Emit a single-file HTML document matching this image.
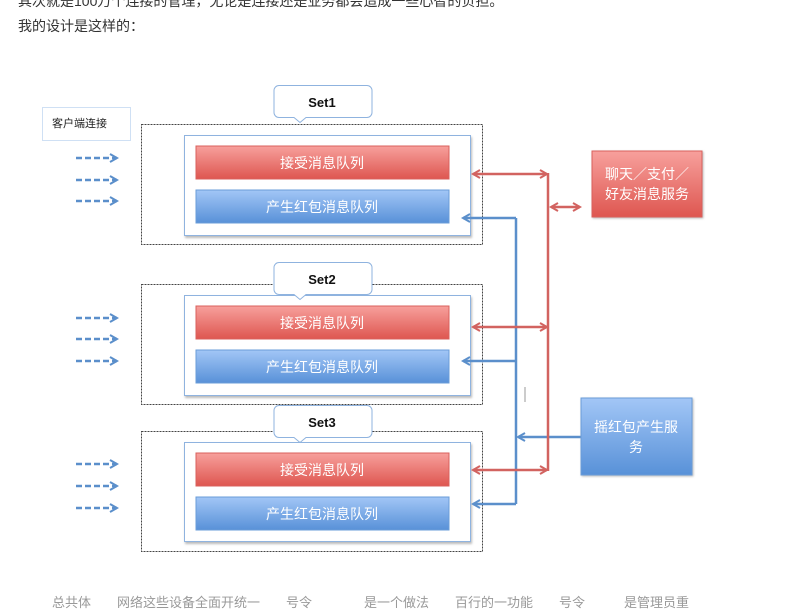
<!DOCTYPE html>
<html><head><meta charset="utf-8"><style>
html,body{margin:0;padding:0;background:#fff;}
body{width:787px;height:600px;overflow:hidden;position:relative;font-family:"Liberation Sans","Noto Sans CJK SC",sans-serif;}
.t{position:absolute;left:18px;font-size:14px;color:#333;white-space:nowrap;}
</style></head><body>
<div class="t" style="top:-9px">其次就是100万个连接的管理，无论是连接还是业务都会造成一些心智的负担。</div>
<div class="t" style="top:16px">我的设计是这样的：</div>
<svg width="787" height="600" style="position:absolute;left:0;top:0" font-family="Liberation Sans, Noto Sans CJK SC, sans-serif">
<defs>
<linearGradient id="r" x1="0" y1="0" x2="0" y2="1"><stop offset="0" stop-color="#f7a09c"/><stop offset="1" stop-color="#de5650"/></linearGradient>
<linearGradient id="b" x1="0" y1="0" x2="0" y2="1"><stop offset="0" stop-color="#a2c6f6"/><stop offset="1" stop-color="#5891d8"/></linearGradient>
<marker id="ar" markerWidth="10" markerHeight="10" refX="8" refY="5" orient="auto-start-reverse" markerUnits="userSpaceOnUse"><path d="M1,1 L8,5 L1,9" fill="none" stroke="#d26360" stroke-width="2"/></marker>
<marker id="ab" markerWidth="10" markerHeight="10" refX="8" refY="5" orient="auto-start-reverse" markerUnits="userSpaceOnUse"><path d="M1,1 L8,5 L1,9" fill="none" stroke="#5b8fcb" stroke-width="2"/></marker>
</defs>
<rect x="42.5" y="107.5" width="88" height="33" fill="#fff" stroke="#cfe0f4"/>
<text x="52" y="127" font-size="11" fill="#222">客户端连接</text>
<g stroke="#5b8fcb" stroke-width="2.5" stroke-dasharray="6,3" marker-end="url(#ab)">
<line x1="76" y1="158" x2="117" y2="158"/><line x1="76" y1="180" x2="117" y2="180"/><line x1="76" y1="201" x2="117" y2="201"/>
<line x1="76" y1="318" x2="117" y2="318"/><line x1="76" y1="339" x2="117" y2="339"/><line x1="76" y1="361" x2="117" y2="361"/>
<line x1="76" y1="464" x2="117" y2="464"/><line x1="76" y1="486" x2="117" y2="486"/><line x1="76" y1="508" x2="117" y2="508"/>
</g>
<g font-size="14" text-anchor="middle">
<!-- set1 -->
<rect x="141.5" y="124.5" width="341" height="120" fill="none" stroke="#444" stroke-dasharray="2,1"/>
<rect x="184.5" y="135.5" width="286" height="100" fill="#fff" stroke="#8fb3df" style="filter:drop-shadow(1px 2px 1px #bbb)"/>
<rect x="196" y="146" width="253" height="33" fill="url(#r)" stroke="#d9605c"/>
<text x="322" y="168" fill="#fff">接受消息队列</text>
<rect x="196" y="190" width="253" height="33" fill="url(#b)" stroke="#6a9cd8"/>
<text x="322" y="212" fill="#fff">产生红包消息队列</text>
<path d="M279,85.5 h88 a5,5 0 0 1 5,5 v22 a5,5 0 0 1 -5,5 h-61 l-6,5 l-6,-5 h-15 a5,5 0 0 1 -5,-5 v-22 a5,5 0 0 1 5,-5z" fill="#fff" stroke="#8fb3df"/>
<text x="322" y="107" fill="#111" font-weight="bold" font-size="13">Set1</text>
<!-- set2 -->
<rect x="141.5" y="284.5" width="341" height="120" fill="none" stroke="#444" stroke-dasharray="2,1"/>
<rect x="184.5" y="295.5" width="286" height="100" fill="#fff" stroke="#8fb3df" style="filter:drop-shadow(1px 2px 1px #bbb)"/>
<rect x="196" y="306" width="253" height="33" fill="url(#r)" stroke="#d9605c"/>
<text x="322" y="328" fill="#fff">接受消息队列</text>
<rect x="196" y="350" width="253" height="33" fill="url(#b)" stroke="#6a9cd8"/>
<text x="322" y="372" fill="#fff">产生红包消息队列</text>
<path d="M279,262.5 h88 a5,5 0 0 1 5,5 v22 a5,5 0 0 1 -5,5 h-61 l-6,5 l-6,-5 h-15 a5,5 0 0 1 -5,-5 v-22 a5,5 0 0 1 5,-5z" fill="#fff" stroke="#8fb3df"/>
<text x="322" y="284" fill="#111" font-weight="bold" font-size="13">Set2</text>
<!-- set3 -->
<rect x="141.5" y="431.5" width="341" height="120" fill="none" stroke="#444" stroke-dasharray="2,1"/>
<rect x="184.5" y="442.5" width="286" height="99" fill="#fff" stroke="#8fb3df" style="filter:drop-shadow(1px 2px 1px #bbb)"/>
<rect x="196" y="453" width="253" height="33" fill="url(#r)" stroke="#d9605c"/>
<text x="322" y="475" fill="#fff">接受消息队列</text>
<rect x="196" y="497" width="253" height="33" fill="url(#b)" stroke="#6a9cd8"/>
<text x="322" y="519" fill="#fff">产生红包消息队列</text>
<path d="M279,405.5 h88 a5,5 0 0 1 5,5 v22 a5,5 0 0 1 -5,5 h-61 l-6,5 l-6,-5 h-15 a5,5 0 0 1 -5,-5 v-22 a5,5 0 0 1 5,-5z" fill="#fff" stroke="#8fb3df"/>
<text x="322" y="427" fill="#111" font-weight="bold" font-size="13">Set3</text>
</g>
<!-- blue connectors -->
<g stroke="#5b8fcb" stroke-width="2.5" fill="none">
<path d="M516,218 V504"/>
<line x1="516" y1="218" x2="463" y2="218" marker-end="url(#ab)"/>
<line x1="516" y1="361" x2="463" y2="361" marker-end="url(#ab)"/>
<line x1="516" y1="504" x2="473" y2="504" marker-end="url(#ab)"/>
<line x1="582" y1="437" x2="518" y2="437" marker-end="url(#ab)"/>
</g>
<!-- red connectors -->
<g stroke="#d26360" stroke-width="2.5" fill="none">
<path d="M548,173 V471"/>
<line x1="473" y1="174" x2="547" y2="174" marker-start="url(#ar)" marker-end="url(#ar)"/>
<line x1="473" y1="327" x2="547" y2="327" marker-start="url(#ar)" marker-end="url(#ar)"/>
<line x1="473" y1="470" x2="547" y2="470" marker-start="url(#ar)" marker-end="url(#ar)"/>
<line x1="551" y1="207" x2="580" y2="207" marker-start="url(#ar)" marker-end="url(#ar)"/>
</g>
<line x1="525" y1="387" x2="525" y2="402" stroke="#999"/>
<rect x="592" y="151" width="110" height="66" fill="url(#r)" stroke="#d9605c" style="filter:drop-shadow(1px 1px 1px #bbb)"/>
<text x="647" y="179" fill="#fff" font-size="14" text-anchor="middle">聊天／支付／</text>
<text x="647" y="199" fill="#fff" font-size="14" text-anchor="middle">好友消息服务</text>
<rect x="581" y="398" width="111" height="77" fill="url(#b)" stroke="#6a9cd8" style="filter:drop-shadow(1px 1px 1px #bbb)"/>
<text x="636" y="432" fill="#fff" font-size="14" text-anchor="middle">摇红包产生服</text>
<text x="636" y="452" fill="#fff" font-size="14" text-anchor="middle">务</text>
</svg>
<div class="t" style="top:592px;left:52px;color:#999;font-size:13px">总共体　　网络这些设备全面开统一　　号令　　　　是一个做法　　百行的一功能　　号令　　　是管理员重</div>
</body></html>
